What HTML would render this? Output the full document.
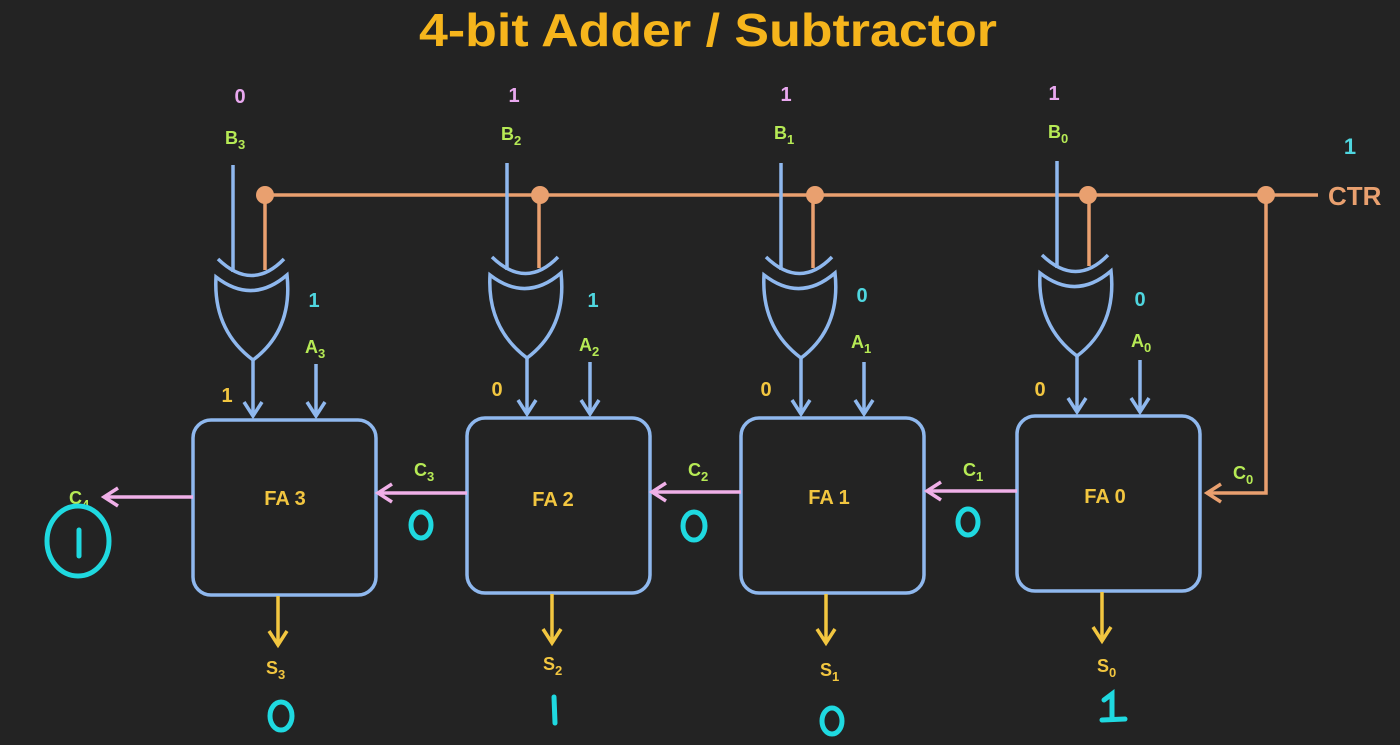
<!DOCTYPE html>
<html><head><meta charset="utf-8"><style>
html,body{margin:0;padding:0;background:#232323;}
svg{display:block;}
text{font-family:"Liberation Sans",sans-serif;font-weight:bold;}
</style></head><body>
<svg width="1400" height="745" viewBox="0 0 1400 745" xmlns="http://www.w3.org/2000/svg">
<defs>
<g id="stage">
  <line x1="233" y1="165" x2="233" y2="272" stroke="#8fb8ee" stroke-width="3.5"/>
  <line x1="265" y1="198" x2="265" y2="270" stroke="#e9a06f" stroke-width="3.5"/>
  <path d="M218,259 Q252,292 284,259" fill="none" stroke="#8fb8ee" stroke-width="3.5"/>
  <path d="M216,277 Q252,305 287,275 Q293,330 253,360 Q213,330 216,277 Z" fill="none" stroke="#8fb8ee" stroke-width="3.5"/>
  <line x1="253" y1="360" x2="253" y2="416" stroke="#8fb8ee" stroke-width="3.5"/>
  <path d="M244,402 L253,416 L262,402" fill="none" stroke="#8fb8ee" stroke-width="3.5"/>
  <line x1="316" y1="364" x2="316" y2="416" stroke="#8fb8ee" stroke-width="3.5"/>
  <path d="M307,402 L316,416 L325,402" fill="none" stroke="#8fb8ee" stroke-width="3.5"/>
  <rect x="193" y="420" width="183" height="175" rx="18" fill="none" stroke="#8fb8ee" stroke-width="3.5"/>
  <line x1="278" y1="596" x2="278" y2="645" stroke="#f2c640" stroke-width="3.5"/>
  <path d="M269,631 L278,645 L287,631" fill="none" stroke="#f2c640" stroke-width="3.5"/>
</g>
</defs>

<text x="708" y="46" text-anchor="middle" font-size="46" fill="#f6b51c" textLength="578" lengthAdjust="spacingAndGlyphs">4-bit Adder / Subtractor</text>

<line x1="265" y1="195" x2="1318" y2="195" stroke="#e9a06f" stroke-width="3.5"/>
<polyline points="1266,195 1266,493 1207,493" fill="none" stroke="#e9a06f" stroke-width="3.5"/>
<path d="M1221,484 L1207,493 L1221,502" fill="none" stroke="#e9a06f" stroke-width="3.5"/>
<text x="1328" y="205" font-size="26" fill="#e9a06f">CTR</text>
<text x="1350" y="154" font-size="22" fill="#4fd6df" text-anchor="middle">1</text>

<use href="#stage" transform="translate(0,0)"/>
<use href="#stage" transform="translate(274,-2)"/>
<use href="#stage" transform="translate(548,-2)"/>
<use href="#stage" transform="translate(824,-4)"/>

<g fill="#e9a06f">
<circle cx="265" cy="195" r="9"/>
<circle cx="540" cy="195" r="9"/>
<circle cx="815" cy="195" r="9"/>
<circle cx="1088" cy="195" r="9"/>
<circle cx="1266" cy="195" r="9"/>
</g>

<g stroke="#f0b0e8" stroke-width="3.5" fill="none">
<line x1="193" y1="497" x2="104" y2="497"/><path d="M118,488 L104,497 L118,506"/>
<line x1="467" y1="493" x2="378" y2="493"/><path d="M392,484 L378,493 L392,502"/>
<line x1="741" y1="492" x2="652" y2="492"/><path d="M666,483 L652,492 L666,501"/>
<line x1="1017" y1="491" x2="927" y2="491"/><path d="M941,482 L927,491 L941,500"/>
</g>

<g font-size="20" text-anchor="middle">
<text x="240" y="103" fill="#e9a8ef">0</text>
<text x="514" y="102" fill="#e9a8ef">1</text>
<text x="786" y="101" fill="#e9a8ef">1</text>
<text x="1054" y="100" fill="#e9a8ef">1</text>

<text x="314" y="307" fill="#4fd6df">1</text>
<text x="593" y="307" fill="#4fd6df">1</text>
<text x="862" y="302" fill="#4fd6df">0</text>
<text x="1140" y="306" fill="#4fd6df">0</text>

<text x="227" y="402" fill="#f2c640">1</text>
<text x="497" y="396" fill="#f2c640">0</text>
<text x="766" y="396" fill="#f2c640">0</text>
<text x="1040" y="396" fill="#f2c640">0</text>

<text x="285" y="505" fill="#f2c640">FA 3</text>
<text x="553" y="506" fill="#f2c640">FA 2</text>
<text x="829" y="504" fill="#f2c640">FA 1</text>
<text x="1105" y="503" fill="#f2c640">FA 0</text>
</g>

<g font-size="18" fill="#b6ea55">
<text x="225" y="144">B<tspan font-size="13" dy="5">3</tspan></text>
<text x="501" y="140">B<tspan font-size="13" dy="5">2</tspan></text>
<text x="774" y="139">B<tspan font-size="13" dy="5">1</tspan></text>
<text x="1048" y="138">B<tspan font-size="13" dy="5">0</tspan></text>

<text x="305" y="353">A<tspan font-size="13" dy="5">3</tspan></text>
<text x="579" y="351">A<tspan font-size="13" dy="5">2</tspan></text>
<text x="851" y="348">A<tspan font-size="13" dy="5">1</tspan></text>
<text x="1131" y="347">A<tspan font-size="13" dy="5">0</tspan></text>

<text x="414" y="476">C<tspan font-size="13" dy="5">3</tspan></text>
<text x="688" y="476">C<tspan font-size="13" dy="5">2</tspan></text>
<text x="963" y="476">C<tspan font-size="13" dy="5">1</tspan></text>
<text x="1233" y="479">C<tspan font-size="13" dy="5">0</tspan></text>
<text x="69" y="504">C<tspan font-size="13" dy="5">4</tspan></text>
</g>

<g font-size="18" fill="#f2c640">
<text x="266" y="674">S<tspan font-size="13" dy="5">3</tspan></text>
<text x="543" y="670">S<tspan font-size="13" dy="5">2</tspan></text>
<text x="820" y="676">S<tspan font-size="13" dy="5">1</tspan></text>
<text x="1097" y="672">S<tspan font-size="13" dy="5">0</tspan></text>
</g>

<g fill="none" stroke="#1fd9e0" stroke-width="5" stroke-linecap="round">
<ellipse cx="421" cy="525" rx="10" ry="13"/>
<ellipse cx="694" cy="526" rx="11" ry="14"/>
<ellipse cx="968" cy="522" rx="10" ry="13"/>
<ellipse cx="281" cy="716" rx="11" ry="14"/>
<ellipse cx="832" cy="721" rx="10" ry="13"/>
<line x1="554" y1="697" x2="555" y2="723"/>
<path d="M1104,700 L1112,694 L1112,719 M1102,720 L1125,719"/>
<ellipse cx="78" cy="541" rx="31" ry="35"/>
<line x1="79" y1="530" x2="79" y2="556"/>
</g>
</svg>
</body></html>
